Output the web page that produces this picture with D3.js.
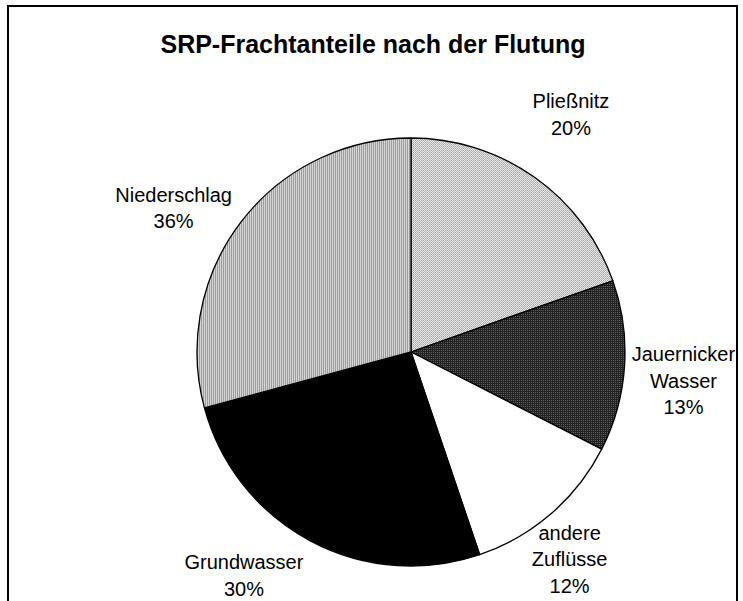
<!DOCTYPE html>
<html>
<head>
<meta charset="utf-8">
<script src="https://cdn.jsdelivr.net/npm/d3@7"></script>
<style>
  body { margin: 0; background: #fff; }
  svg { display: block; font-family: 'Liberation Sans', Arial, sans-serif; }
</style>
</head>
<body>
<script>
// slice sizes (percent of the circle)
const categories = ['Pließnitz', 'Jauernicker Wasser', 'andere Zuflüsse', 'Grundwasser', 'Niederschlag'];
const sliceValues = [19.6, 12.9, 12.3, 26.0, 29.2];
// percentages as printed on the labels
const labelPercents = ['20%', '13%', '12%', '30%', '36%'];
// how the category names wrap in the labels
const labelLines = [['Pließnitz'], ['Jauernicker', 'Wasser'], ['andere', 'Zuflüsse'], ['Grundwasser'], ['Niederschlag']];

const width = 743;
const height = 601;
const cx = 411;
const cy = 352;
const radius = 214;
const labelRadius = 270;
const lineHeight = 26.7;

// label nudges (Excel "best fit" placement is not strictly radial)
const labelNudge = [[4, -17], [3, 11], [-18, 3], [-40, -15], [-23, 20]];

const svg = d3.select('body')
  .append('svg')
    .attr('width', width)
    .attr('height', height);

const defs = svg.append('defs');

// fine light-gray dot pattern
const pDots = defs.append('pattern')
    .attr('id', 'pat-light')
    .attr('width', 2).attr('height', 2)
    .attr('patternUnits', 'userSpaceOnUse');
pDots.append('rect').attr('width', 2).attr('height', 2).attr('fill', '#e8e8e8');
pDots.append('rect').attr('width', 1).attr('height', 1).attr('fill', '#a6a6a6');
pDots.append('rect').attr('x', 1).attr('y', 1).attr('width', 1).attr('height', 1).attr('fill', '#b4b4b4');

// dark pattern with small light dots
const pDark = defs.append('pattern')
    .attr('id', 'pat-dark')
    .attr('width', 2).attr('height', 2)
    .attr('patternUnits', 'userSpaceOnUse');
pDark.append('rect').attr('width', 2).attr('height', 2).attr('fill', '#222222');
pDark.append('rect').attr('width', 1).attr('height', 1).attr('fill', '#5e5e5e');

// vertical stripes
const pStripe = defs.append('pattern')
    .attr('id', 'pat-stripe')
    .attr('width', 2).attr('height', 2)
    .attr('patternUnits', 'userSpaceOnUse');
pStripe.append('rect').attr('width', 2).attr('height', 2).attr('fill', '#d6d6d6');
pStripe.append('rect').attr('width', 1).attr('height', 2).attr('fill', '#9c9c9c');

const fills = ['url(#pat-light)', 'url(#pat-dark)', '#ffffff', '#000000', 'url(#pat-stripe)'];

// chart frame (bottom edge runs off the picture)
svg.append('rect')
    .attr('x', 8).attr('y', 6)
    .attr('width', 729).attr('height', 640)
    .attr('fill', 'none')
    .attr('stroke', '#000')
    .attr('stroke-width', 2);

svg.append('text')
    .attr('x', 373)
    .attr('y', 53)
    .attr('text-anchor', 'middle')
    .style('font-size', '25px')
    .style('font-weight', 'bold')
    .text('SRP-Frachtanteile nach der Flutung');

const pie = d3.pie()
    .sort(null)
    .value((d) => d.value);

const data = categories.map((c, i) => ({
  name: c,
  value: sliceValues[i],
  pct: labelPercents[i],
  lines: labelLines[i],
  fill: fills[i],
  nudge: labelNudge[i]
}));

const arcs = pie(data);

const arc = d3.arc().innerRadius(0).outerRadius(radius);
const labelArc = d3.arc().innerRadius(labelRadius).outerRadius(labelRadius);

const g = svg.append('g')
    .attr('transform', 'translate(' + cx + ',' + cy + ')');

g.selectAll('path')
    .data(arcs)
    .enter().append('path')
    .attr('d', arc)
    .attr('fill', (d) => d.data.fill)
    .attr('stroke', '#000')
    .attr('stroke-width', 1.3)
    .attr('stroke-linejoin', 'round');

const labels = g.selectAll('text.label')
    .data(arcs)
    .enter().append('text')
    .attr('class', 'label')
    .attr('text-anchor', 'middle')
    .style('font-size', '20px')
    .attr('fill', '#000');

labels.each(function (d) {
  const [x, y] = labelArc.centroid(d);
  const lines = d.data.lines.concat([d.data.pct]);
  const px = x + d.data.nudge[0];
  const py = y + d.data.nudge[1];
  const first = py - (lines.length - 1) * lineHeight / 2 + 7;
  d3.select(this).selectAll('tspan')
    .data(lines)
    .enter().append('tspan')
      .attr('x', px)
      .attr('y', (t, i) => first + i * lineHeight)
      .text((t) => t);
});
</script>
</body>
</html>
